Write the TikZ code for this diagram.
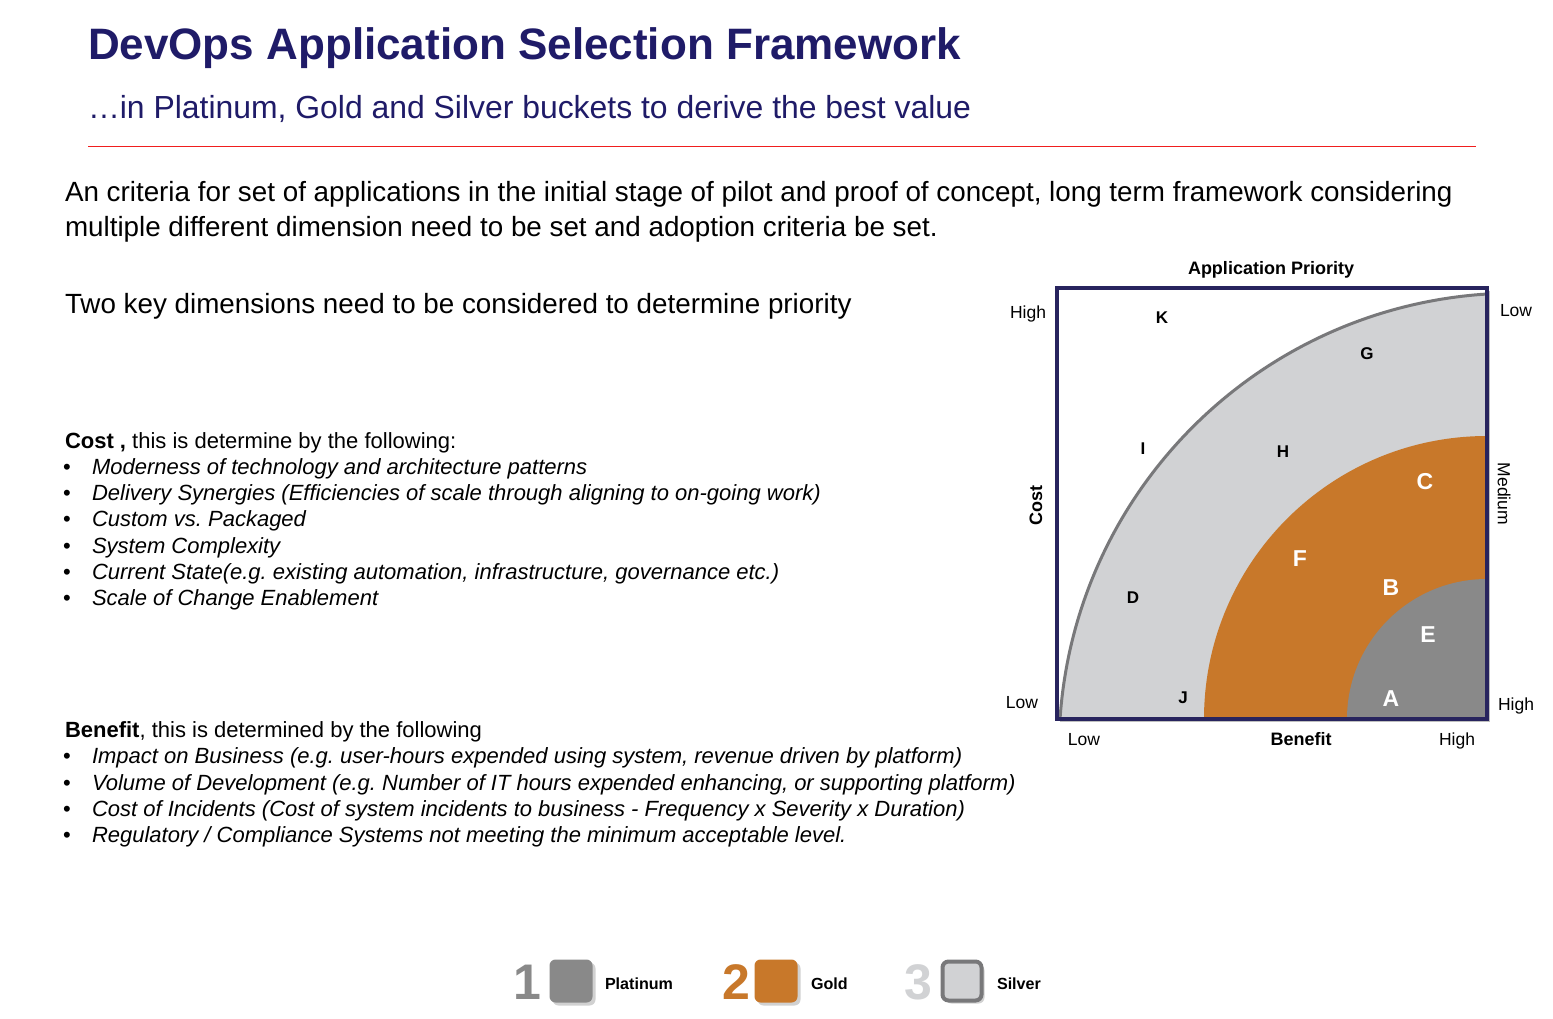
\documentclass[tikz,border=0pt]{standalone}
\usepackage{fontspec}
\setmainfont{Liberation Sans}
\usetikzlibrary{shadows}
\frenchspacing

\definecolor{navy}{RGB}{31,27,104}
\definecolor{frame}{RGB}{40,36,94}
\definecolor{silver}{RGB}{209,210,212}
\definecolor{gold}{RGB}{200,120,42}
\definecolor{platinum}{RGB}{137,137,137}
\definecolor{arcgray}{RGB}{120,120,122}
\definecolor{rulered}{RGB}{240,30,30}

\begin{document}
\begin{tikzpicture}[x=1pt,y=1pt,
  every node/.style={inner sep=0pt,outer sep=0pt},
  title/.style={anchor=base west,text=navy,font=\fontsize{44}{48}\selectfont\bfseries},
  subtitle/.style={anchor=base west,text=navy,font=\fontsize{31.9}{36}\selectfont},
  para/.style={anchor=base west,font=\fontsize{27.8}{34}\selectfont},
  item/.style={anchor=base west,font=\fontsize{22}{26}\selectfont},
  bul/.style={anchor=base west,font=\fontsize{22}{26}\selectfont},
  axis/.style={font=\fontsize{17.5}{20}\selectfont},
  axisb/.style={font=\fontsize{18}{20}\selectfont\bfseries},
  lblk/.style={font=\fontsize{17}{20}\selectfont\bfseries},
  lwht/.style={text=white,font=\fontsize{23}{26}\selectfont\bfseries},
  bignum/.style={font=\fontsize{50}{56}\selectfont\bfseries},
  legtxt/.style={anchor=base west,font=\fontsize{16.1}{18}\selectfont\bfseries},
  legbox/.style={minimum width=43,minimum height=43,rounded corners=6,
    drop shadow={shadow xshift=3pt,shadow yshift=-3pt,opacity=0.18,fill=black}},
]
\useasboundingbox[fill=white] (0,0) rectangle (1553,-1019);

% heading
\node[title] (ttl) at (88,-60) {DevOps Application Selection Framework};
\node[subtitle] (sub) at (88,-119) {…in Platinum, Gold and Silver buckets to derive the best value};
\draw[rulered,line width=1.2] (88,-146.5) -- (1476,-146.5);

% introduction
\node[para] (p1) at (65,-201.7) {An criteria for set of applications in the initial stage of pilot and proof of concept, long term framework considering};
\node[para] (p2) at (65,-236.7) {multiple different dimension need to be set and adoption criteria be set.};
\node[para] (p3) at (65,-313) {Two key dimensions need to be considered to determine priority};

% cost criteria
\node[item] (costh) at (65,-448) {\textbf{Cost ,} this is determine by the following:};
\foreach \t [count=\i] in {
  {Moderness of technology and architecture patterns},
  {Delivery Synergies (Efficiencies of scale through aligning to on-going work)},
  {Custom vs. Packaged},
  {System Complexity},
  {Current State(e.g. existing automation, infrastructure, governance etc.)},
  {Scale of Change Enablement}} {
  \node[bul] (cb\i) at (63,{-448-26.3*\i}) {•};
  \node[item] (ci\i) at (92,{-448-26.3*\i}) {\itshape\t};
}

% benefit criteria
\node[item] (benh) at (65,-737.5) {\textbf{Benefit}, this is determined by the following};
\foreach \t [count=\i] in {
  {Impact on Business (e.g. user-hours expended using system, revenue driven by platform)},
  {Volume of Development (e.g. Number of IT hours expended enhancing, or supporting platform)},
  {Cost of Incidents (Cost of system incidents to business - Frequency x Severity x Duration)},
  {Regulatory / Compliance Systems not meeting the minimum acceptable level.}} {
  \node[bul] (bb\i) at (63,{-737.5-26.3*\i}) {•};
  \node[item] (bi\i) at (92,{-737.5-26.3*\i}) {\itshape\t};
}

% priority chart
\node[minimum width=430,minimum height=431,fill=white,
  drop shadow={shadow xshift=3pt,shadow yshift=-3pt,opacity=0.25,fill=black}]
  (plot) at (1272,-503.5) {};
% silver band
\fill[silver] (1060,-719) arc[start angle=176.1,end angle=93.9,radius=457]
  -- (1487,-293) -- (1487,-719) -- cycle;
\draw[arcgray,line width=3] (1060,-719) arc[start angle=176.1,end angle=93.9,radius=457];
% gold band
\fill[gold] (1204,-719) arc[start angle=180,end angle=90,radius=283] -- (1487,-719) -- cycle;
% platinum core
\fill[platinum] (1347,-719) arc[start angle=180,end angle=90,radius=140] -- (1487,-719) -- cycle;
\draw[frame,line width=3.5] (plot.north west) rectangle (plot.south east);

\node[axisb] (aptitle) at (1271,-270) {Application Priority};
\node[axis,anchor=base east] (yhi) at (1046,-318) {High};
\node[axis,anchor=base east] (ylo) at (1038,-708) {Low};
\node[axisb,rotate=90] (ycost) at (1036,-505) {Cost};
\node[axis,anchor=base west] (rlo) at (1500,-316) {Low};
\node[axis,rotate=-90] (rmed) at (1504,-494) {Medium};
\node[axis,anchor=base west] (rhi) at (1498,-710) {High};
\node[axis,anchor=base] (xlo) at (1084,-745) {Low};
\node[axisb,anchor=base] (xben) at (1301,-745) {Benefit};
\node[axis,anchor=base] (xhi) at (1457,-745) {High};

\node[lblk] (K) at (1162,-318) {K};
\node[lblk] (G) at (1367,-354) {G};
\node[lblk] (I) at (1143,-449) {I};
\node[lblk] (H) at (1283,-452) {H};
\node[lblk] (D) at (1133,-598) {D};
\node[lblk] (J) at (1183,-698) {J};
\node[lwht] (C) at (1425,-482) {C};
\node[lwht] (F) at (1300,-559) {F};
\node[lwht] (B) at (1391,-588) {B};
\node[lwht] (E) at (1428,-635) {E};
\node[lwht] (A) at (1391,-699) {A};

% legend
\node[bignum,text=platinum] (n1) at (527,-982) {1};
\node[legbox,fill=platinum] (sq1) at (571,-981) {};
\node[legtxt] (t1) at (605,-989) {Platinum};
\node[bignum,text=gold] (n2) at (736,-982) {2};
\node[legbox,fill=gold] (sq2) at (776,-981) {};
\node[legtxt] (t2) at (811,-989) {Gold};
\node[bignum,text=silver] (n3) at (918,-982) {3};
\node[legbox,fill=silver,draw=arcgray,line width=4,minimum width=39,minimum height=39] (sq3) at (962,-981) {};
\node[legtxt] (t3) at (997,-989) {Silver};
\end{tikzpicture}
\end{document}
